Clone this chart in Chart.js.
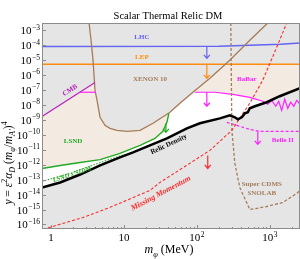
<!DOCTYPE html>
<html>
<head>
<meta charset="utf-8">
<script src="https://cdn.jsdelivr.net/npm/chart.js@4.4.1/dist/chart.umd.min.js"></script>
<style>
  html, body { margin: 0; padding: 0; background: #fff; }
  canvas { display: block; }
</style>
</head>
<body>
<canvas id="relicChart" width="300" height="259"></canvas>
<script>
// dark matter mass m_phi (MeV) and y values
const relicM = [0.75, 1.33, 2.5, 4.7, 8.8, 13.3, 22.7, 38.8, 73, 110, 207, 283, 332, 365, 413, 455, 500, 532, 624, 910, 1370, 2600];
const relicY = [3.0e-14, 6.5e-14, 2.2e-13, 9.0e-13, 3.1e-12, 6.6e-12, 1.95e-11, 5.7e-11, 2.7e-10, 5.9e-10, 1.26e-9, 2.0e-9, 1.48e-9, 1.08e-9, 1.48e-9, 2.7e-9, 3.2e-9, 5.9e-9, 8.1e-9, 1.5e-8, 3.8e-8, 1.3e-7];

const lsndM = [0.75, 1.33, 2.5, 4.7, 8.8, 16.6, 26.6, 34.2, 38.8, 41.3];
const lsndY = [5.6e-13, 8.9e-13, 1.4e-12, 2.2e-12, 5.7e-12, 1.95e-11, 5.7e-11, 1.7e-10, 6.8e-10, 2.7e-9];

const sidmM = [0.75, 1.82, 4.7, 10.3];
const sidmY = [7.6e-14, 2.6e-13, 1.4e-12, 4.9e-12];

const xenonM = [3.32, 3.53, 3.76, 4.0, 4.27, 4.69, 5.49, 6.43, 8.02, 11.0, 16.6, 25.0, 42.7, 58.5, 88.1, 151, 283, 532, 940];
const xenonY = [3.0e-3, 2.1e-4, 9.8e-6, 9.5e-8, 2.0e-8, 1.48e-9, 4.3e-10, 2.7e-10, 2.0e-10, 1.7e-10, 2.0e-10, 5.9e-10, 3.2e-9, 1.3e-8, 7.0e-8, 6.0e-7, 9.8e-6, 2.1e-4, 3.0e-3];

const cmbM = [0.75, 4.0];
const cmbY = [1.7e-9, 3.2e-7];

const babarLeftM = [2.5, 4.13];
const babarLeftY = [7.0e-8, 7.0e-8];
const babarM = [93.9, 177, 311, 532, 802, 940, 1065, 1208, 1327, 1459, 1604, 1765, 1940, 2133, 2345, 2600];
const babarY = [7.0e-8, 7.0e-8, 5.1e-8, 3.2e-8, 1.74e-8, 1.1e-8, 2.0e-8, 8.1e-9, 1.74e-8, 4.3e-9, 2.4e-8, 5.9e-9, 1.5e-8, 8.1e-9, 2.0e-8, 1.1e-8];

const belleM = [258, 353, 532, 730, 2600];
const belleY = [6.8e-10, 4.3e-10, 2.3e-10, 1.7e-10, 1.7e-10];

const lhcM = [0.75, 200, 1400, 2600];
const lhcY = [8.1e-5, 8.5e-5, 1.15e-4, 1.4e-4];

const lepM = [0.75, 2600];
const lepY = [5.25e-6, 5.25e-6];

const cdmsM = [292, 302, 332, 388, 532, 910, 1507, 2345, 2600];
const cdmsY = [3.0e-3, 2.0e-10, 1.23e-12, 3.0e-14, 1.0e-15, 1.6e-15, 2.95e-15, 1.2e-14, 1.9e-14];

const missM = [0.78, 2.74, 6.43, 22.7, 31.1, 68.5, 151, 302, 532, 802, 1170, 1709];
const missY = [4.8e-17, 2.95e-16, 1.4e-15, 1.9e-14, 6.5e-14, 7.6e-13, 9.1e-12, 2.0e-10, 1.3e-8, 4.5e-7, 3.4e-5, 3.0e-3];

// upper edge of the shaded (tan) region: CMB then LEP
const tanM = [0.75, 4.0, 4.0, 2600];
const tanY = [1.7e-9, 3.2e-7, 5.25e-6, 5.25e-6];

// limit arrows
const arrowM = [137, 137, 137, 141, 685, 37.6];
const arrowFrom = [8.5e-5, 5.25e-6, 7.0e-8, 4.2e-12, 1.7e-10, 5.9e-10];
const arrowTo = [1.3e-5, 6.0e-7, 8.1e-9, 5.6e-13, 2.3e-11, 1.45e-10];

const xTicks = [1, 10, 100, 1000];
const yTicks = [1e-16, 1e-15, 1e-14, 1e-13, 1e-12, 1e-11, 1e-10, 1e-9, 1e-8, 1e-7, 1e-6, 1e-5, 1e-4, 1e-3];

const FONT = '"Liberation Serif", "DejaVu Serif", serif';
const GRAY = '#e5e5e5';
const TAN = '#f3eae2';
const BLUE = '#6464f2', ORANGE = '#ff8c10', BROWN = '#a67c58', PURPLE = '#bb22bb',
      MAGENTA = '#ff22ff', GREEN = '#22aa22', RED = '#ff2a2a';

const arrowColor = [BLUE, ORANGE, MAGENTA, RED, MAGENTA, GREEN];

const labels = [
    { text: 'LHC', m: 17.6, y: 3.4e-4, color: BLUE },
    { text: 'LEP', m: 17.6, y: 1.55e-5, color: ORANGE },
    { text: 'XENON 10', m: 22.7, y: 5.2e-7, color: BROWN },
    { text: 'CMB', m: 1.82, y: 9.5e-8, color: PURPLE, rot: 33 },
    { text: 'BaBar', m: 484, y: 5.2e-7, color: MAGENTA },
    { text: 'Belle II', m: 1507, y: 4.3e-11, color: MAGENTA },
    { text: 'LSND', m: 2.0, y: 3.6e-11, color: GREEN },
    { text: 'LSND x SIDM', m: 1.94, y: 2.2e-13, color: GREEN, rot: 18, style: 'italic bold', size: 6.5 },
    { text: 'Relic Density', m: 41.3, y: 2.3e-11, color: '#000', rot: 25 },
    { text: 'Missing Momentum', m: 32.1, y: 1.2e-14, color: RED, rot: 28, style: 'italic bold', size: 8 },
    { text: 'Super CDMS', m: 777, y: 4.8e-14, color: BROWN },
    { text: 'SNOLAB', m: 777, y: 1.2e-14, color: BROWN }
];

function pts(ms, ys) {
    return ms.map((m, i) => ({ x: m, y: ys[i] }));
}

function lineSet(ms, ys, color, width, dash, order) {
    return {
        data: pts(ms, ys), borderColor: color, borderWidth: width,
        borderDash: dash || [], fill: false, order: order || 0, tension: 0
    };
}

function fillSet(ms, ys, color, target, order) {
    return {
        data: pts(ms, ys), borderWidth: 0, borderColor: 'rgba(0,0,0,0)',
        backgroundColor: color, fill: target, order: order, tension: 0
    };
}

function drawPower(ctx, n, x, y, align) {
    const base = n === 0 ? '1' : '10';
    const exp = (n === 0 || n === 1) ? '' : String(n).replace('-', '\u2212');
    ctx.font = '11px ' + FONT;
    const wb = ctx.measureText(base).width;
    ctx.font = '7.5px ' + FONT;
    const we = exp ? ctx.measureText(exp).width + 0.5 : 0;
    let x0 = align === 'right' ? x - wb - we : x - (wb + we) / 2;
    ctx.fillStyle = '#000';
    ctx.textAlign = 'left';
    ctx.textBaseline = 'alphabetic';
    ctx.font = '11px ' + FONT;
    ctx.fillText(base, x0, y + 4);
    if (exp) {
        ctx.font = '7.5px ' + FONT;
        ctx.fillText(exp, x0 + wb + 0.5, y - 0.5);
    }
}

// parts: [text, kind] kind: n normal, i italic, b sub, p sup, bi italic sub
function drawRich(ctx, parts, x, y, size) {
    const fontOf = k => {
        const small = k === 'b' || k === 'p' || k === 'bi';
        const it = k === 'i' || k === 'bi';
        return (it ? 'italic ' : '') + (small ? size * 0.7 : size) + 'px ' + FONT;
    };
    let w = 0;
    parts.forEach(p => { ctx.font = fontOf(p[1]); w += ctx.measureText(p[0]).width; });
    let cx = x - w / 2;
    ctx.textAlign = 'left';
    ctx.textBaseline = 'alphabetic';
    parts.forEach(p => {
        ctx.font = fontOf(p[1]);
        const dy = (p[1] === 'b' || p[1] === 'bi') ? size * 0.3 : p[1] === 'p' ? -size * 0.4 : 0;
        ctx.fillText(p[0], cx, y + dy);
        cx += ctx.measureText(p[0]).width;
    });
}

const decor = {
    id: 'decor',
    beforeDatasetsDraw(chart) {
        const { ctx, chartArea: a } = chart;
        ctx.save();
        ctx.fillStyle = GRAY;
        ctx.fillRect(a.left, a.top, a.width, a.height);
        ctx.restore();
    },
    afterDatasetsDraw(chart) {
        const { ctx, chartArea: a } = chart;
        const xs = chart.scales.x, ys = chart.scales.y;
        ctx.save();
        ctx.beginPath();
        ctx.rect(a.left, a.top, a.width, a.height);
        ctx.clip();
        // arrows
        arrowM.forEach((m, i) => {
            const x = xs.getPixelForValue(m);
            const y1 = ys.getPixelForValue(arrowFrom[i]);
            const y2 = ys.getPixelForValue(arrowTo[i]);
            ctx.strokeStyle = arrowColor[i];
            ctx.lineWidth = 1.2;
            ctx.beginPath();
            ctx.moveTo(x, y1); ctx.lineTo(x, y2);
            ctx.moveTo(x - 3, y2 - 3.5); ctx.lineTo(x, y2); ctx.lineTo(x + 3, y2 - 3.5);
            ctx.stroke();
        });
        // labels
        labels.forEach(l => {
            ctx.save();
            ctx.translate(xs.getPixelForValue(l.m), ys.getPixelForValue(l.y));
            ctx.rotate(-(l.rot || 0) * Math.PI / 180);
            ctx.font = (l.style || 'bold') + ' ' + (l.size || 7) + 'px ' + FONT;
            ctx.fillStyle = l.color;
            ctx.textAlign = 'center';
            ctx.textBaseline = 'middle';
            ctx.fillText(l.text, 0, 0);
            ctx.restore();
        });
        ctx.restore();

        // frame and inside ticks
        ctx.save();
        ctx.strokeStyle = '#8c8c8c';
        ctx.lineWidth = 1;
        ctx.strokeRect(a.left + 0.5, a.top + 0.5, a.width - 1, a.height - 1);
        ctx.beginPath();
        xs.ticks.forEach(t => {
            const x = Math.round(xs.getPixelForValue(t.value)) + 0.5;
            const major = xTicks.includes(t.value);
            ctx.moveTo(x, a.bottom); ctx.lineTo(x, a.bottom - (major ? 4 : 2));
        });
        yTicks.forEach(v => {
            const y = Math.round(ys.getPixelForValue(v)) + 0.5;
            ctx.moveTo(a.left, y); ctx.lineTo(a.left + 4, y);
        });
        ctx.stroke();
        ctx.restore();
    },
    afterDraw(chart) {
        const { ctx, chartArea: a } = chart;
        const xs = chart.scales.x, ys = chart.scales.y;
        ctx.save();
        yTicks.forEach(v => drawPower(ctx, Math.round(Math.log10(v)), a.left - 2, ys.getPixelForValue(v), 'right'));
        xTicks.forEach(v => drawPower(ctx, Math.round(Math.log10(v)), xs.getPixelForValue(v), a.bottom + 8, 'center'));

        ctx.fillStyle = '#000';
        ctx.font = '10.5px ' + FONT;
        ctx.textAlign = 'center';
        ctx.textBaseline = 'alphabetic';
        ctx.fillText('Scalar Thermal Relic DM', 168, 19);

        drawRich(ctx, [['m', 'i'], ['\u03C6', 'bi'], [' (MeV)', 'n']], 169, 253, 12);

        ctx.translate(12, 163);
        ctx.rotate(-Math.PI / 2);
        drawRich(ctx, [['y', 'i'], [' = ', 'n'], ['\u03B5', 'i'], ['2', 'p'], ['\u03B1', 'i'], ['D', 'bi'],
            [' (', 'n'], ['m', 'i'], ['\u03C6', 'bi'], ['/', 'n'], ['m', 'i'], ['A\u2032', 'bi'], [')', 'n'], ['4', 'p']], 0, 0, 11.5);
        ctx.restore();
    }
};

const ctx = document.getElementById('relicChart').getContext('2d');
const relicChart = new Chart(ctx, {
    type: 'line',
    data: {
        datasets: [
            lineSet(relicM, relicY, '#000', 2.5, null, 0),
            lineSet(missM, missY, RED, 1.1, [3, 2], 1),
            lineSet(cdmsM, cdmsY, BROWN, 1.3, [3, 2], 1),
            lineSet(lsndM, lsndY, GREEN, 1.4, null, 1),
            lineSet(sidmM, sidmY, GREEN, 1.1, [1.5, 1.5], 1),
            lineSet(cmbM, cmbY, PURPLE, 1.2, null, 1),
            lineSet(babarLeftM, babarLeftY, MAGENTA, 1.2, null, 1),
            lineSet(babarM, babarY, MAGENTA, 1.2, null, 1),
            lineSet(belleM, belleY, MAGENTA, 1.2, [3, 2], 1),
            lineSet(xenonM, xenonY, BROWN, 1.3, null, 1),
            lineSet(lhcM, lhcY, BLUE, 1.5, null, 1),
            lineSet(lepM, lepY, ORANGE, 1.5, null, 1),
            fillSet(relicM, relicY, GRAY, 'start', 10),
            fillSet(xenonM, xenonY, GRAY, 'end', 20),
            fillSet(lsndM.concat(babarM), lsndY.concat(babarY), '#ffffff', 'start', 30),
            fillSet(tanM, tanY, TAN, 'start', 40)
        ]
    },
    options: {
        responsive: false,
        animation: false,
        devicePixelRatio: 1,
        layout: { padding: { top: 23, right: 0, left: 0, bottom: 0 } },
        elements: { point: { radius: 0 }, line: { borderCapStyle: 'butt' } },
        plugins: { legend: { display: false }, tooltip: { enabled: false }, title: { display: false } },
        scales: {
            x: {
                type: 'logarithmic', min: 0.75, max: 2600,
                grid: { display: false }, border: { display: false },
                ticks: { display: false },
                afterBuildTicks: axis => {
                    const t = [];
                    for (let d = 1; d <= 1000; d *= 10) {
                        for (let k = 1; k < 10; k++) if (d * k <= 2600) t.push({ value: d * k });
                    }
                    axis.ticks = t;
                },
                afterFit: s => { s.height = 30; }
            },
            y: {
                type: 'logarithmic', min: 5e-17, max: 3e-3,
                grid: { display: false }, border: { display: false },
                ticks: { display: false },
                afterBuildTicks: axis => { axis.ticks = yTicks.map(v => ({ value: v })); },
                afterFit: s => { s.width = 42; }
            }
        }
    },
    plugins: [decor]
});
</script>
</body>
</html>
